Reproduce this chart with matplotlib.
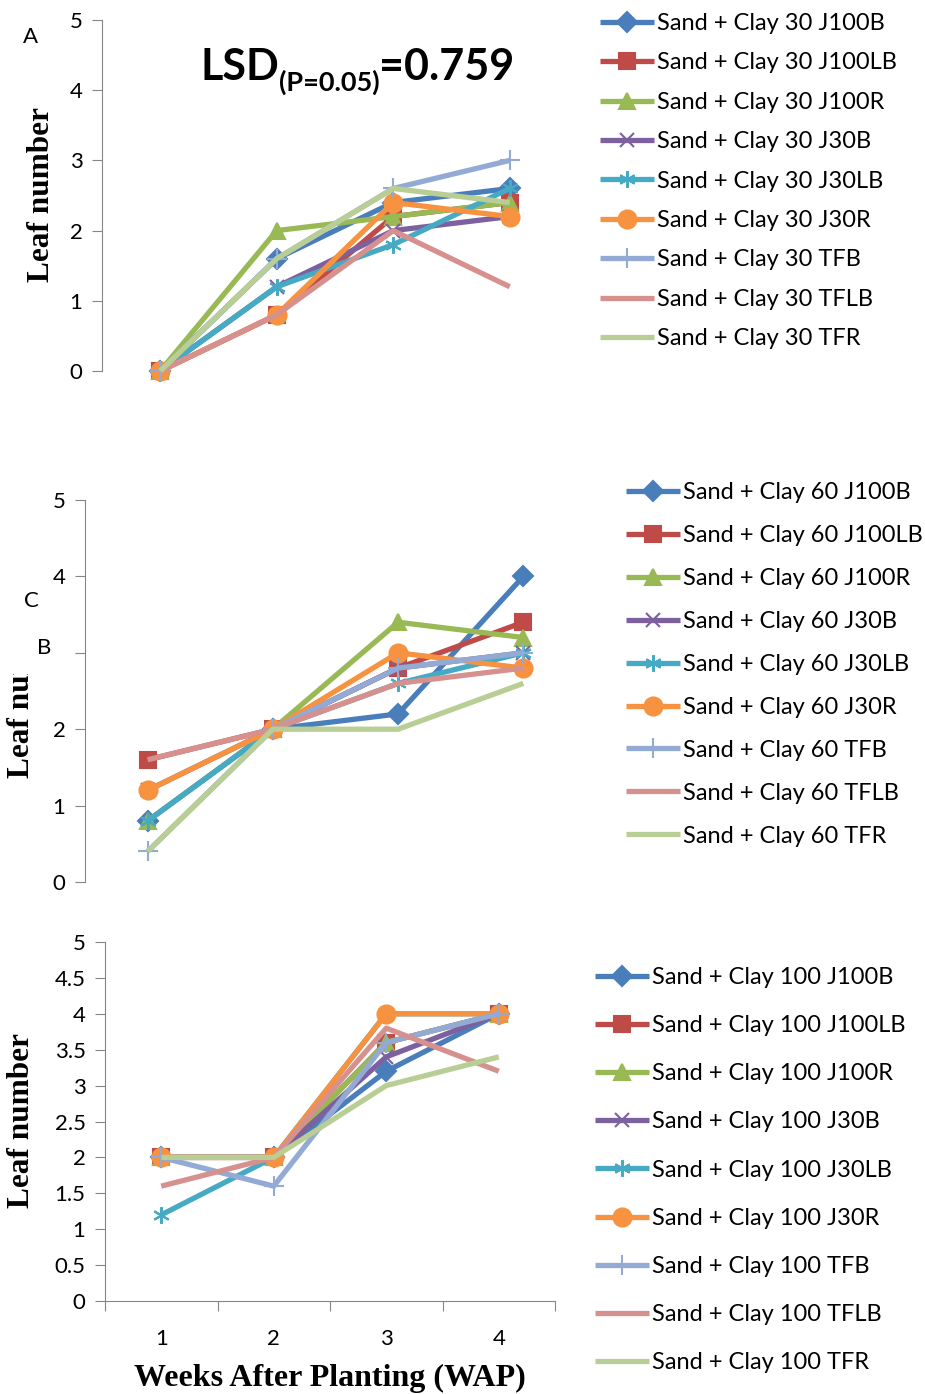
import matplotlib
matplotlib.use("Agg")
import matplotlib.pyplot as plt
from matplotlib.patches import Rectangle

weeks = [1, 2, 3, 4]
treatments = ["J100B", "J100LB", "J100R", "J30B", "J30LB", "J30R", "TFB", "TFLB", "TFR"]

# leaf number per treatment (rows follow treatments), weeks 1-4
clay30_leaves = [
    [0, 1.6, 2.4, 2.6],
    [0, 0.8, 2.2, 2.4],
    [0, 2.0, 2.2, 2.4],
    [0, 1.2, 2.0, 2.2],
    [0, 1.2, 1.8, 2.6],
    [0, 0.8, 2.4, 2.2],
    [0, 1.6, 2.6, 3.0],
    [0, 0.8, 2.0, 1.2],
    [0, 1.6, 2.6, 2.4],
]
clay60_leaves = [
    [0.8, 2, 2.2, 4.0],
    [1.6, 2, 2.8, 3.4],
    [0.8, 2, 3.4, 3.2],
    [1.2, 2, 2.8, 3.0],
    [0.8, 2, 2.6, 3.0],
    [1.2, 2, 3.0, 2.8],
    [0.4, 2, 2.8, 3.0],
    [1.6, 2, 2.6, 2.8],
    [0.4, 2, 2.0, 2.6],
]
clay100_leaves = [
    [2, 2, 3.2, 4],
    [2, 2, 3.6, 4],
    [2, 2, 3.6, 4],
    [2, 2, 3.4, 4],
    [1.2, 2, 4.0, 4],
    [2, 2, 4.0, 4],
    [2, 1.6, 3.6, 4],
    [1.6, 2, 3.8, 3.2],
    [2, 2, 3.0, 3.4],
]
lsd_value = "0.759"

colors = ["#4A7EBB", "#BE4B48", "#98B954", "#7D60A0", "#46AAC5",
          "#F69240", "#93AAD5", "#D6918F", "#B8CE95"]
markers = ["D", "s", "^", "x", (6, 2, 0), "o", "+", "", ""]
msizes = [10, 11, 12, 10, 12, 13, 14, 0, 0]

W, H = 925, 1394
fig = plt.figure(figsize=(W / 100, H / 100), dpi=100)
plt.rcParams["font.family"] = "Lato"

def fx(x):
    return x / W

def fy(y):
    return 1 - y / H

def make_axes(left, right, top, bottom):
    return fig.add_axes([fx(left), fy(bottom), (right - left) / W, (bottom - top) / H])

grey = "#868686"
serif = "Liberation Serif"

def draw_panel(ax, data, clay, leg_x, leg_top, spacing):
    lines = []
    for i, name in enumerate(treatments):
        ln, = ax.plot(weeks, data[i], color=colors[i], lw=3.8, marker=markers[i],
                      ms=msizes[i], mec=colors[i], mfc=colors[i], mew=1.5,
                      solid_capstyle="butt", label=f"Sand + Clay {clay} {name}",
                      clip_on=False)
        lines.append(ln)
    ax.set_xlim(0.5, 4.5)
    ax.set_ylim(0, 5)
    for side in ["top", "right"]:
        ax.spines[side].set_visible(False)
    ax.spines["left"].set_color(grey)
    ax.spines["bottom"].set_color(grey)
    ax.tick_params(axis="y", direction="out", length=7, color=grey, labelsize=16, pad=7)
    fig.legend(handles=lines, loc="upper left",
               bbox_to_anchor=(fx(leg_x), fy(leg_top)), frameon=False,
               fontsize=17, handlelength=2.3, handletextpad=0.12,
               borderpad=0, borderaxespad=0, labelspacing=spacing)

def side_label(x, y, text):
    fig.text(fx(x), fy(y), text, family=serif, weight="bold", fontsize=22.5,
             rotation=90, ha="center", va="center")

# panel A: clay 30
ax_a = make_axes(102, 568, 20, 371)
draw_panel(ax_a, clay30_leaves, 30, 600, 13, 0.78)
ax_a.spines["bottom"].set_visible(False)
ax_a.set_xticks([])
side_label(42, 195, "Leaf number")

# panel B: clay 60
ax_b = make_axes(85, 586, 500, 882)
draw_panel(ax_b, clay60_leaves, 60, 626, 482, 0.93)
ax_b.spines["bottom"].set_visible(False)
ax_b.set_xticks([])
side_label(22, 691, "Leaf number")

# panel C: clay 100
ax_c = make_axes(105, 555, 942, 1301)
draw_panel(ax_c, clay100_leaves, 100, 595, 967, 1.15)
ax_c.set_yticks([i * 0.5 for i in range(11)])
ax_c.set_yticklabels(["0", "0.5", "1", "1.5", "2", "2.5", "3", "3.5", "4", "4.5", "5"])
ax_c.set_xticks([0.5, 1.5, 2.5, 3.5, 4.5])
ax_c.set_xticklabels([])
ax_c.set_xticks(weeks, minor=True)
ax_c.set_xticklabels([str(w) for w in weeks], minor=True)
ax_c.tick_params(axis="x", which="major", direction="out", length=7, color=grey)
ax_c.tick_params(axis="x", which="minor", length=0, labelsize=16, pad=20)
side_label(22, 1121, "Leaf number")
fig.text(fx(330), fy(1378), "Weeks After Planting (WAP)", family=serif, weight="bold",
         fontsize=23, ha="center", va="center")

# covering box over part of the middle y label, with panel letters on it
fig.patches.append(Rectangle((fx(0), fy(674)), 72 / W, 90 / H, transform=fig.transFigure,
                             facecolor="white", edgecolor="none", zorder=5))
fig.text(fx(31), fy(601), "C", fontsize=16, ha="center", va="center", zorder=6)
fig.text(fx(44), fy(648), "B", fontsize=16, ha="center", va="center", zorder=6)
fig.text(fx(31), fy(37), "A", fontsize=16, ha="center", va="center", zorder=6)

# LSD annotation with subscript
renderer = fig.canvas.get_renderer()
t1 = fig.text(fx(200), fy(80), "LSD", fontsize=31, weight="bold", va="baseline")
x1 = t1.get_window_extent(renderer).x1
t2 = fig.text(x1 / W, fy(91), "(P=0.05)", fontsize=19.5, weight="bold", va="baseline")
x2 = t2.get_window_extent(renderer).x1
fig.text(x2 / W, fy(80), "=" + lsd_value, fontsize=31, weight="bold", va="baseline")

fig.savefig("out.png", dpi=100)
